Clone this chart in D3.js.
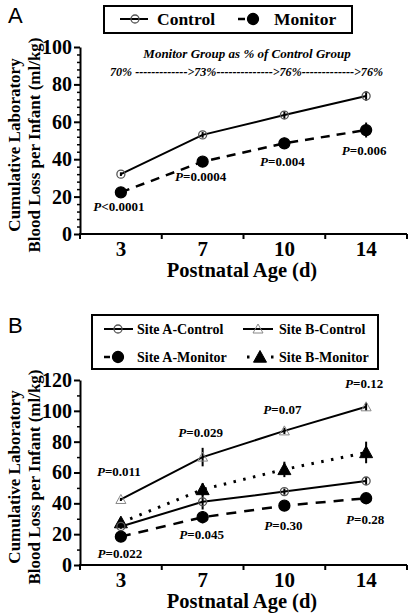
<!DOCTYPE html>
<html><head><meta charset="utf-8">
<script src="https://cdn.jsdelivr.net/npm/d3@7"></script>
<style>
html,body{margin:0;padding:0;background:#fff;}
svg{display:block;}
text{font-family:'Liberation Serif','Times New Roman',serif;font-weight:bold;fill:#000;}
</style></head>
<body>
<script>
// ---------- data ----------
const categories = ['3', '7', '10', '14'];
// Panel A
const controlA = [32, 53, 63.6, 73.8];
const controlErrA = [1, 1.5, 2, 2.5];
const monitorA = [22.3, 38.7, 48.5, 55.6];
const monitorErrA = [1, 1.5, 3, 4];
const pLabelsA = ['<0.0001', '=0.0004', '=0.004', '=0.006'];
const percentLine = '70% ------------->73%-------------->76%------------->76%';
const yTicksA = [0, 20, 40, 60, 80, 100];
// Panel B
const siteAControl = [25, 41, 47.6, 54.5];
const siteAControlErr = [1.5, 5, 2, 2.5];
const siteAMonitor = [18.4, 31, 38.5, 43.3];
const siteAMonitorErr = [1, 4, 1.5, 1.5];
const siteBControl = [42.5, 70, 87, 102.6];
const siteBControlErr = [1, 6, 2, 2.5];
const siteBMonitor = [27.5, 49, 62, 73];
const siteBMonitorErr = [2.5, 4, 5, 7];
const pUpperB = ['=0.011', '=0.029', '=0.07', '=0.12'];
const pLowerB = ['=0.022', '=0.045', '=0.30', '=0.28'];
const yTicksB = [0, 20, 40, 60, 80, 100, 120];

// ---------- drawing ----------
const W = 413, H = 616;
const svg = d3.select('body').append('svg').attr('width', W).attr('height', H);

function panel(opts) {
  const g = svg.append('g');
  const x = d3.scaleBand().domain(categories).range([80, 407]);
  const y = d3.scaleLinear().domain([0, opts.ymax]).range([opts.y0, opts.y1]);
  const cx = c => x(c) + x.bandwidth() / 2;

  // minor y ticks
  const minors = d3.range(0, opts.ymax + 0.001, opts.minorStep).filter(v => opts.yTicks.indexOf(v) < 0);
  g.append('g').attr('transform', 'translate(80,0)')
    .call(d3.axisLeft(y).tickValues(minors).tickSize(3).tickSizeOuter(0).tickFormat(''))
    .call(a => a.select('.domain').remove())
    .selectAll('line').attr('stroke-width', 1.5);
  // major y axis
  const ya = g.append('g').attr('transform', 'translate(80,0)')
    .call(d3.axisLeft(y).tickValues(opts.yTicks).tickSize(6).tickSizeOuter(0).tickPadding(2));
  ya.select('.domain').attr('stroke-width', 2);
  ya.selectAll('line').attr('stroke-width', 2);
  ya.selectAll('text').style('font-size', '20px').style('font-family', "'Liberation Serif',serif").style('font-weight', 'bold');

  // x axis
  const xa = g.append('g').attr('transform', `translate(0,${opts.y0})`)
    .call(d3.axisBottom(x).tickSize(0).tickPadding(7));
  xa.select('.domain').remove();
  xa.selectAll('text').style('font-size', '21px').style('font-family', "'Liberation Serif',serif").style('font-weight', 'bold');
  g.append('line').attr('x1', 79).attr('x2', 407).attr('y1', opts.y0).attr('y2', opts.y0)
    .attr('stroke', '#000').attr('stroke-width', 2);
  const bounds = categories.map(c => x(c)).concat([x.range()[1]]);
  g.selectAll('.xb').data(bounds).join('line')
    .attr('x1', d => d).attr('x2', d => d).attr('y1', opts.y0).attr('y2', opts.y0 + 5)
    .attr('stroke', '#000').attr('stroke-width', 2);

  // titles
  g.append('text').attr('x', 242).attr('y', opts.y0 + 43).attr('text-anchor', 'middle')
    .style('font-size', '20.5px').text('Postnatal Age (d)');
  const ty = g.append('text').attr('transform', `translate(0,${opts.titleY}) rotate(-90)`)
    .attr('text-anchor', 'middle').style('font-size', '17px');
  ty.append('tspan').attr('x', 0).attr('y', 20).text('Cumulative Laboratory');
  ty.append('tspan').attr('x', 0).attr('y', 40).text('Blood Loss per Infant (ml/kg)');

  g.append('text').attr('x', 8).attr('y', opts.letterY)
    .style('font-family', "'Liberation Sans',Arial,sans-serif").style('font-weight', 'normal')
    .style('font-size', '22px').text(opts.letter);

  return {g, x, y, cx};
}

function series(p, vals, errs, style) {
  const line = d3.line().x((d, i) => p.cx(categories[i])).y(d => p.y(d));
  p.g.append('path').datum(vals).attr('d', line).attr('fill', 'none')
    .attr('stroke', '#000').attr('stroke-width', style.width || 2)
    .attr('stroke-dasharray', style.dash || null)
    .attr('stroke-linecap', style.cap || 'butt');
  p.g.selectAll(null).data(vals).join('line')
    .attr('x1', (d, i) => p.cx(categories[i])).attr('x2', (d, i) => p.cx(categories[i]))
    .attr('y1', (d, i) => p.y(d + errs[i])).attr('y2', (d, i) => p.y(d - errs[i]))
    .attr('stroke', '#000').attr('stroke-width', 2);
  marker(p.g, vals.map((d, i) => [p.cx(categories[i]), p.y(d)]), style.marker);
}

function marker(g, pts, type) {
  if (type === 'openCircle' || type === 'filledCircle') {
    g.selectAll(null).data(pts).join('circle')
      .attr('cx', d => d[0]).attr('cy', d => d[1])
      .attr('r', type === 'openCircle' ? 4 : 5.5)
      .attr('fill', type === 'openCircle' ? '#fff' : '#000')
      .attr('fill-opacity', type === 'openCircle' ? 0 : 1)
      .attr('stroke', type === 'openCircle' ? '#555' : '#000').attr('stroke-width', 1.3);
  } else {
    const open = type === 'openTriangle';
    const s = open ? 5 : 6.5;
    g.selectAll(null).data(pts).join('path')
      .attr('d', d => `M${d[0]},${d[1] - s}L${d[0] + s},${d[1] + s * 0.8}L${d[0] - s},${d[1] + s * 0.8}Z`)
      .attr('fill', open ? 'none' : '#000')
      .attr('stroke', open ? '#888' : '#000').attr('stroke-width', 1);
  }
}

function pLabel(g, xpos, ypos, text) {
  const t = g.append('text').attr('x', xpos).attr('y', ypos).attr('text-anchor', 'middle')
    .style('font-size', '13px');
  t.append('tspan').style('font-style', 'italic').text('P');
  t.append('tspan').text(text);
}

// ----- Panel A -----
const A = panel({ymax: 100, y0: 234, y1: 47, yTicks: yTicksA, minorStep: 4, titleY: 145, letter: 'A', letterY: 23});
series(A, controlA, controlErrA, {marker: 'openCircle', width: 2});
series(A, monitorA, monitorErrA, {marker: 'filledCircle', width: 2.5, dash: '9,7'});
pLabelsA.forEach((t, i) => {
  pLabel(A.g, A.cx(categories[i]) - 2, A.y(monitorA[i] - monitorErrA[i]) + 17, t);
});
A.g.append('text').attr('x', 247).attr('y', 58).attr('text-anchor', 'middle')
  .style('font-size', '13px').style('font-style', 'italic').text('Monitor Group as % of Control Group');
A.g.append('text').attr('x', 110).attr('y', 76).attr('textLength', 273).attr('lengthAdjust', 'spacingAndGlyphs')
  .style('font-size', '12.5px').style('font-style', 'italic').text(percentLine);
// legend A
A.g.append('rect').attr('x', 104).attr('y', 6).attr('width', 248).attr('height', 27)
  .attr('fill', 'none').attr('stroke', '#000').attr('stroke-width', 2);
A.g.append('line').attr('x1', 120).attr('x2', 148).attr('y1', 19).attr('y2', 19).attr('stroke', '#000').attr('stroke-width', 2);
marker(A.g, [[135, 19]], 'openCircle');
A.g.append('text').attr('x', 157).attr('y', 25).style('font-size', '17.5px').text('Control');
A.g.append('line').attr('x1', 238).attr('x2', 245).attr('y1', 19).attr('y2', 19).attr('stroke', '#000').attr('stroke-width', 2.5);
marker(A.g, [[253, 19]], 'filledCircle');
A.g.append('text').attr('x', 274).attr('y', 25).style('font-size', '17.5px').text('Monitor');

// ----- Panel B -----
const B = panel({ymax: 120, y0: 565, y1: 380, yTicks: yTicksB, minorStep: 10, titleY: 477, letter: 'B', letterY: 333});
series(B, siteBControl, siteBControlErr, {marker: 'openTriangle', width: 2});
series(B, siteBMonitor, siteBMonitorErr, {marker: 'filledTriangle', width: 3, dash: '2.5,7.5'});
series(B, siteAControl, siteAControlErr, {marker: 'openCircle', width: 2});
series(B, siteAMonitor, siteAMonitorErr, {marker: 'filledCircle', width: 2.5, dash: '10,8'});
const upOff = [-22, -11, -14, -15];
pUpperB.forEach((t, i) => {
  pLabel(B.g, B.cx(categories[i]) - 2, B.y(siteBControl[i] + siteBControlErr[i]) + upOff[i], t);
});
const loOff = [20, 16, 22, 23];
pLowerB.forEach((t, i) => {
  pLabel(B.g, B.cx(categories[i]) - 1, B.y(siteAMonitor[i] - siteAMonitorErr[i]) + loOff[i], t);
});
// legend B
B.g.append('rect').attr('x', 92).attr('y', 315).attr('width', 286).attr('height', 54)
  .attr('fill', 'none').attr('stroke', '#000').attr('stroke-width', 2);
B.g.append('line').attr('x1', 104).attr('x2', 133).attr('y1', 329).attr('y2', 329).attr('stroke', '#000').attr('stroke-width', 2);
marker(B.g, [[118, 329]], 'openCircle');
B.g.append('text').attr('x', 137).attr('y', 334).style('font-size', '14px').text('Site A-Control');
B.g.append('line').attr('x1', 243).attr('x2', 273).attr('y1', 329).attr('y2', 329).attr('stroke', '#000').attr('stroke-width', 2);
marker(B.g, [[258, 329]], 'openTriangle');
B.g.append('text').attr('x', 279).attr('y', 334).style('font-size', '14px').text('Site B-Control');
B.g.append('line').attr('x1', 104).attr('x2', 110).attr('y1', 357).attr('y2', 357).attr('stroke', '#000').attr('stroke-width', 2.5);
marker(B.g, [[118, 357]], 'filledCircle');
B.g.append('text').attr('x', 137).attr('y', 362).style('font-size', '14px').text('Site A-Monitor');
B.g.append('line').attr('x1', 247).attr('x2', 275).attr('y1', 357).attr('y2', 357).attr('stroke', '#000').attr('stroke-width', 3).attr('stroke-dasharray', '2.5,9.5');
marker(B.g, [[260, 357]], 'filledTriangle');
B.g.append('text').attr('x', 279).attr('y', 362).style('font-size', '14px').text('Site B-Monitor');
</script>
</body></html>
